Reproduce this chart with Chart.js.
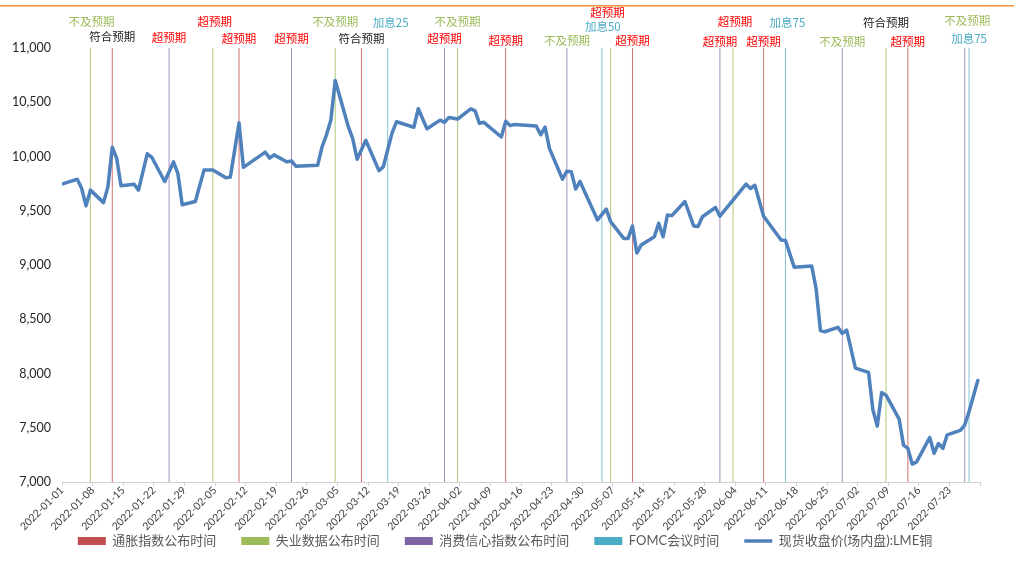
<!DOCTYPE html>
<html>
<head>
<meta charset="utf-8">
<script src="https://cdn.jsdelivr.net/npm/chart.js@4.4.1/dist/chart.umd.min.js"></script>
<style>
html,body{margin:0;padding:0;background:#fff;}
canvas{display:block;}
</style>
</head>
<body>
<canvas id="c" width="1014" height="575"></canvas>
<script>
// ---------------- DATA ----------------
const priceDates = [
'2021-12-31','2022-01-04','2022-01-05','2022-01-06','2022-01-07','2022-01-10','2022-01-11','2022-01-12','2022-01-13','2022-01-14',
'2022-01-17','2022-01-18','2022-01-20','2022-01-21','2022-01-24','2022-01-26','2022-01-27','2022-01-28','2022-01-31',
'2022-02-02','2022-02-04','2022-02-07','2022-02-08','2022-02-10','2022-02-11','2022-02-16','2022-02-17','2022-02-18',
'2022-02-21','2022-02-22','2022-02-23','2022-02-28','2022-03-01','2022-03-02','2022-03-03','2022-03-04','2022-03-07',
'2022-03-08','2022-03-09','2022-03-11','2022-03-14','2022-03-15','2022-03-17','2022-03-18','2022-03-22','2022-03-23',
'2022-03-25','2022-03-28','2022-03-29','2022-03-30','2022-04-01','2022-04-04','2022-04-05','2022-04-06','2022-04-07',
'2022-04-11','2022-04-12','2022-04-13','2022-04-14','2022-04-19','2022-04-20','2022-04-21','2022-04-22','2022-04-25',
'2022-04-26','2022-04-27','2022-04-28','2022-04-29','2022-05-03','2022-05-05','2022-05-06','2022-05-09','2022-05-10',
'2022-05-11','2022-05-12','2022-05-13','2022-05-16','2022-05-17','2022-05-18','2022-05-19','2022-05-20','2022-05-23',
'2022-05-25','2022-05-26','2022-05-27','2022-05-30','2022-05-31','2022-06-06','2022-06-07','2022-06-08','2022-06-10',
'2022-06-14','2022-06-15','2022-06-17','2022-06-21','2022-06-22','2022-06-23','2022-06-24','2022-06-27','2022-06-28',
'2022-06-29','2022-07-01','2022-07-04','2022-07-05','2022-07-06','2022-07-07','2022-07-08','2022-07-11','2022-07-12',
'2022-07-13','2022-07-14','2022-07-15','2022-07-18','2022-07-19','2022-07-20','2022-07-21','2022-07-22','2022-07-25',
'2022-07-26','2022-07-27','2022-07-29'
];
const priceValues = [
9740,9790,9705,9545,9690,9575,9720,10085,9985,9730,
9745,9690,10025,9995,9770,9950,9845,9555,9585,
9875,9875,9805,9810,10310,9900,10040,9985,10015,
9950,9960,9910,9920,10090,10200,10335,10700,10275,
10165,9975,10150,9870,9905,10215,10320,10270,10440,
10255,10335,10315,10360,10345,10440,10420,10305,10315,
10180,10325,10285,10295,10280,10200,10270,10075,9790,
9865,9860,9700,9770,9415,9515,9400,9245,9245,
9360,9110,9185,9260,9385,9260,9460,9455,9585,
9360,9355,9445,9530,9450,9745,9705,9735,9450,
9230,9225,8980,8990,8785,8395,8385,8425,8370,
8400,8050,8010,7665,7515,7825,7800,7580,7340,
7310,7165,7185,7410,7265,7355,7310,7435,7475,
7525,7650,7935
];

const cpiDates   = ['2022-01-12','2022-02-10','2022-03-10','2022-04-12','2022-05-11','2022-06-10','2022-07-13'];
const cpiResults = ['符合预期','超预期','符合预期','超预期','超预期','超预期','超预期'];
const jobsDates   = ['2022-01-07','2022-02-04','2022-03-04','2022-04-01','2022-05-06','2022-06-03','2022-07-08'];
const jobsResults = ['不及预期','超预期','不及预期','不及预期','超预期','超预期','符合预期'];
const confDates   = ['2022-01-25','2022-02-22','2022-03-29','2022-04-26','2022-05-31','2022-06-28','2022-07-26'];
const confResults = ['超预期','超预期','超预期','不及预期','超预期','不及预期','不及预期'];
const fomcDates   = ['2022-03-16','2022-05-04','2022-06-15','2022-07-27'];
const fomcResults = ['加息25','加息50','加息75','加息75'];

const seriesNames = ['通胀指数公布时间','失业数据公布时间','消费信心指数公布时间','FOMC会议时间','现货收盘价(场内盘):LME铜'];

const tickLabels = ['2022-01-01','2022-01-08','2022-01-15','2022-01-22','2022-01-29','2022-02-05','2022-02-12','2022-02-19',
'2022-02-26','2022-03-05','2022-03-12','2022-03-19','2022-03-26','2022-04-02','2022-04-09','2022-04-16','2022-04-23',
'2022-04-30','2022-05-07','2022-05-14','2022-05-21','2022-05-28','2022-06-04','2022-06-11','2022-06-18','2022-06-25',
'2022-07-02','2022-07-09','2022-07-16','2022-07-23'];
const axisStartDate = '2022-01-01';
const axisEndDate = '2022-07-30';
const yMin = 7000, yMax = 11000, yStep = 500;

// ---------------- STYLE / LAYOUT ----------------
const COL = {cpi:'#C0504D', jobs:'#9BBB59', conf:'#8064A2', fomc:'#4BACC6', price:'#4F81BD'};
const LINECOL = {cpi:'rgba(192,80,77,0.8)', jobs:'rgba(155,187,89,0.8)', conf:'rgba(128,100,162,0.7)', fomc:'rgba(75,172,198,0.7)'};
const resultColor = {'超预期':'#FF0000','不及预期':'#9BBB59','符合预期':'#1a1a1a'};
const fomcTextColor = '#4BACC6';
const labelLayout = {
  cpi:  {y:[37,38.5,38.5,41,41,42,42], dx:[0,0,0,0,0,0,0]},
  jobs: {y:[21.5,21.5,22,22,12.5,22,23], dx:[1,2,0,0,-3,2,0]},
  conf: {y:[38,38.5,38.5,41,42,42,20.5], dx:[0,0,0,0,0,0,2.5]},
  fomc: {y:[22.5,27,23,39], dx:[3,1,2,0]}
};
const LEGEND_TEXT_Y = 541, LEGEND_SHIFT_X = 15;
const FONT_LATIN = 'Lato, "Noto Sans CJK SC", sans-serif';
const FONT_CJK = '"Noto Sans CJK SC", sans-serif';

// ---------------- HELPERS ----------------
function utc(s){ const [y,m,d] = s.split('-').map(Number); return Date.UTC(y,m-1,d); }
function dayOf(s){ return (utc(s) - utc(axisStartDate)) / 86400000; }
function slot(s){ return dayOf(s) + 0.5; }   // date-axis points sit mid-day
function eventData(dates){
  const out = [];
  dates.forEach(d => { const x = slot(d); out.push({x, y:yMin}, {x, y:yMax}, {x, y:null}); });
  return out;
}
const tickDayMap = {};
tickLabels.forEach(t => { tickDayMap[dayOf(t)] = t; });
const tickValues = tickLabels.map(dayOf).concat([dayOf(axisEndDate)]);
const priceData = priceDates.map((d,i) => ({x: slot(d), y: priceValues[i]}));

function evDataset(label, dates, key){
  return {label, data: eventData(dates), borderColor: LINECOL[key], borderWidth: 1, pointRadius: 0,
    spanGaps: false, tension: 0, order: 1, legendColor: COL[key], fill: false};
}

const annotPlugin = {
  id: 'annot',
  afterLayout(chart){
    const lg = chart.legend;
    if (!lg) return;
    const pad = lg.options.labels.padding, fs = lg.options.labels.font.size;
    const h = lg.bottom - lg.top;
    lg.top = LEGEND_TEXT_Y - pad - fs / 2;
    lg.bottom = lg.top + h;
    lg.left += LEGEND_SHIFT_X;
    lg.right += LEGEND_SHIFT_X;
  },
  beforeDraw(chart){
    const ctx = chart.ctx;
    ctx.save();
    ctx.fillStyle = '#ffffff';
    ctx.fillRect(0,0,chart.width,chart.height);
    ctx.fillStyle = '#F79646';
    ctx.fillRect(0,5,chart.width,1.6);
    ctx.restore();
  },
  afterDraw(chart){
    const ctx = chart.ctx, xs = chart.scales.x;
    ctx.save();
    ctx.font = '11.5px ' + FONT_CJK;
    ctx.textAlign = 'center';
    ctx.textBaseline = 'middle';
    const groups = [
      ['cpi', cpiDates, cpiResults],
      ['jobs', jobsDates, jobsResults],
      ['conf', confDates, confResults],
      ['fomc', fomcDates, fomcResults]
    ];
    groups.forEach(([key, dates, res]) => {
      dates.forEach((d,i) => {
        const x = xs.getPixelForValue(slot(d)) + labelLayout[key].dx[i];
        const y = labelLayout[key].y[i];
        ctx.fillStyle = key === 'fomc' ? fomcTextColor : resultColor[res[i]];
        ctx.fillText(res[i], x, y);
      });
    });
    ctx.restore();
  }
};

new Chart(document.getElementById('c'), {
  type: 'line',
  data: {
    datasets: [
      evDataset(seriesNames[0], cpiDates, 'cpi'),
      evDataset(seriesNames[1], jobsDates, 'jobs'),
      evDataset(seriesNames[2], confDates, 'conf'),
      evDataset(seriesNames[3], fomcDates, 'fomc'),
      {label: seriesNames[4], data: priceData, borderColor: COL.price, borderWidth: 3.5, pointRadius: 0,
       tension: 0, order: 0, legendColor: COL.price, isPrice: true, borderJoinStyle: 'round', borderCapStyle: 'round', fill: false}
    ]
  },
  options: {
    responsive: false,
    animation: false,
    layout: {padding: {top: 48, left: 0, right: 34, bottom: -10}},
    plugins: {
      tooltip: {enabled: false},
      legend: {
        position: 'bottom',
        labels: {
          usePointStyle: true,
          pointStyleWidth: 28,
          boxHeight: 8,
          padding: 25,
          color: '#595959',
          font: {family: FONT_LATIN, size: 13},
          generateLabels(chart){
            return chart.data.datasets.map((ds,i) => ({
              text: ds.label,
              fillStyle: ds.legendColor,
              strokeStyle: ds.legendColor,
              lineWidth: ds.isPrice ? 3.5 : 0,
              pointStyle: ds.isPrice ? 'line' : 'rect',
              hidden: false,
              datasetIndex: i,
              fontColor: '#595959'
            }));
          }
        }
      }
    },
    scales: {
      x: {
        type: 'linear',
        min: dayOf(axisStartDate),
        max: dayOf(axisEndDate),
        afterBuildTicks(s){ s.ticks = tickValues.map(v => ({value: v})); },
        afterFit(s){ s.height = 55; },
        ticks: {
          autoSkip: false, minRotation: 45, maxRotation: 45, padding: -2,
          color: '#404040', font: {family: FONT_LATIN, size: 10.5},
          callback: (v) => tickDayMap[v] || ''
        },
        grid: {drawOnChartArea: false, drawTicks: true, tickLength: 4, color: '#d0d0d0'},
        border: {color: '#d0d0d0', width: 1}
      },
      y: {
        min: yMin, max: yMax,
        afterFit(s){ s.width = 62; },
        ticks: {stepSize: yStep, padding: 11, color: '#262626', font: {family: FONT_LATIN, size: 12.5},
          callback: v => Number(v).toLocaleString('en-US')},
        grid: {display: false, drawTicks: false},
        border: {display: false}
      }
    }
  },
  plugins: [annotPlugin]
});
</script>
</body>
</html>
